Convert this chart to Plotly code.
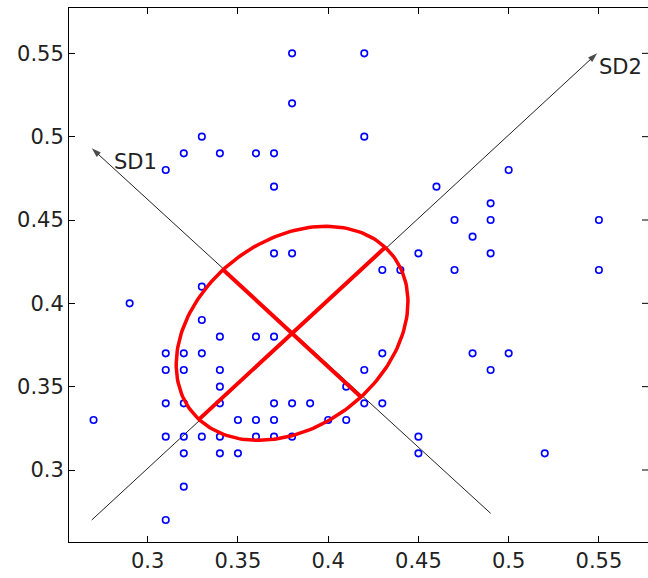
import numpy as np
import plotly.graph_objects as go

# Poincaré scatter points (RR_n, RR_n+1)
x_vals = [0.27, 0.29,
          0.31, 0.32, 0.33, 0.34, 0.36, 0.37, 0.37, 0.38, 0.38, 0.37, 0.38,
          0.42, 0.42, 0.46, 0.50, 0.49, 0.47, 0.49, 0.55, 0.48, 0.45, 0.49, 0.43, 0.44, 0.47, 0.55,
          0.33, 0.33, 0.34, 0.36, 0.37,
          0.31, 0.32, 0.33, 0.31, 0.32, 0.34, 0.34,
          0.31, 0.32, 0.34, 0.37, 0.38, 0.39,
          0.35, 0.36, 0.37, 0.40, 0.41,
          0.31, 0.32, 0.33, 0.34, 0.36, 0.37, 0.38,
          0.32, 0.34, 0.35, 0.32, 0.31,
          0.43, 0.42, 0.41, 0.42, 0.43, 0.45, 0.45, 0.48, 0.50, 0.49, 0.52]
y_vals = [0.33, 0.40,
          0.48, 0.49, 0.50, 0.49, 0.49, 0.49, 0.47, 0.55, 0.52, 0.43, 0.43,
          0.55, 0.50, 0.47, 0.48, 0.46, 0.45, 0.45, 0.45, 0.44, 0.43, 0.43, 0.42, 0.42, 0.42, 0.42,
          0.41, 0.39, 0.38, 0.38, 0.38,
          0.37, 0.37, 0.37, 0.36, 0.36, 0.36, 0.35,
          0.34, 0.34, 0.34, 0.34, 0.34, 0.34,
          0.33, 0.33, 0.33, 0.33, 0.33,
          0.32, 0.32, 0.32, 0.32, 0.32, 0.32, 0.32,
          0.31, 0.31, 0.31, 0.29, 0.27,
          0.37, 0.36, 0.35, 0.34, 0.34, 0.32, 0.31, 0.37, 0.37, 0.36, 0.31]

# Ellipse parameters
center = (0.380, 0.382)
sd1 = 0.054
sd2 = 0.073

# Axis arrows: x (tail, tip), y (tail, tip)
sd1_arrow_x = [0.490, 0.269]
sd1_arrow_y = [0.274, 0.493]
sd2_arrow_x = [0.269, 0.549]
sd2_arrow_y = [0.270, 0.550]
labels = ["SD1", "SD2"]
label_x = [0.2806, 0.5495]
label_y = [0.485, 0.542]

tick_vals = [0.3, 0.35, 0.4, 0.45, 0.5, 0.55]
tick_text = ["0.3", "0.35", "0.4", "0.45", "0.5", "0.55"]

FONT = "DejaVu Sans"
TXT = "#222222"

cx, cy = center
u2 = np.array([1, 1]) / np.sqrt(2)
u1 = np.array([-1, 1]) / np.sqrt(2)
t = np.linspace(0, 2 * np.pi, 200)
ex = cx + sd2 * np.cos(t) * u2[0] + sd1 * np.sin(t) * u1[0]
ey = cy + sd2 * np.cos(t) * u2[1] + sd1 * np.sin(t) * u1[1]

fig = go.Figure()

# black axis arrows (below the red ellipse)
for ax_, ay_ in [(sd1_arrow_x, sd1_arrow_y), (sd2_arrow_x, sd2_arrow_y)]:
    fig.add_trace(go.Scatter(
        x=ax_, y=ay_, mode="lines+markers",
        line=dict(color="#222222", width=1),
        marker=dict(symbol="arrow", size=[0, 10], angleref="previous",
                    color="#000000", line=dict(width=0)),
        showlegend=False, hoverinfo="skip"))

fig.add_trace(go.Scatter(
    x=x_vals, y=y_vals, mode="markers",
    marker=dict(symbol="circle-open", size=6.5, color="#0000ff",
                line=dict(width=1.6, color="#0000ff")),
    showlegend=False, hoverinfo="skip"))

fig.add_trace(go.Scatter(x=ex, y=ey, mode="lines",
                         line=dict(color="#ff0000", width=3.5),
                         showlegend=False, hoverinfo="skip"))
# SD2 cross line
fig.add_trace(go.Scatter(x=[cx - sd2 * u2[0], cx + sd2 * u2[0]],
                         y=[cy - sd2 * u2[1], cy + sd2 * u2[1]],
                         mode="lines", line=dict(color="#ff0000", width=4),
                         showlegend=False, hoverinfo="skip"))
# SD1 cross line
fig.add_trace(go.Scatter(x=[cx - sd1 * u1[0], cx + sd1 * u1[0]],
                         y=[cy - sd1 * u1[1], cy + sd1 * u1[1]],
                         mode="lines", line=dict(color="#ff0000", width=4),
                         showlegend=False, hoverinfo="skip"))

for lab, lx, ly in zip(labels, label_x, label_y):
    fig.add_annotation(x=lx, y=ly, xref="x", yref="y", text=lab,
                       showarrow=False, xanchor="left", yanchor="middle",
                       font=dict(family=FONT, size=21, color=TXT),
                       borderpad=0)

# right-side inward ticks (the right spine itself lies outside the picture)
for v in tick_vals:
    fig.add_shape(type="line", xref="paper", xsizemode="pixel", xanchor=1,
                  x0=-6, x1=0, yref="y", y0=v, y1=v,
                  line=dict(color="black", width=1))

axis_common = dict(showgrid=False, zeroline=False, showline=True, linecolor="black",
                   linewidth=1, ticks="inside", ticklen=6,
                   tickcolor="black", tickwidth=1,
                   tickvals=tick_vals, ticktext=tick_text,
                   tickfont=dict(family=FONT, size=21, color=TXT))

fig.update_layout(
    width=648, height=578,
    margin=dict(l=69, r=0, t=8, b=36),
    paper_bgcolor="white", plot_bgcolor="white",
    xaxis=dict(range=[0.2564, 0.5772], mirror="ticks", **axis_common),
    yaxis=dict(range=[0.2568, 0.5772], mirror=False, **axis_common),
)

fig.write_html("out.html")
